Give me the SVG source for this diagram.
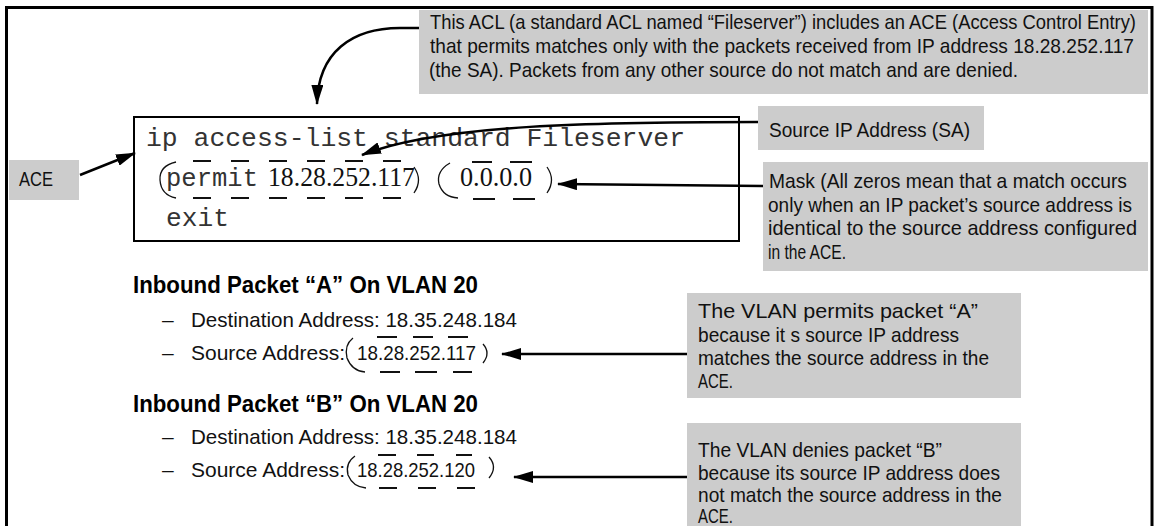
<svg xmlns="http://www.w3.org/2000/svg" width="1155" height="526" viewBox="0 0 1155 526">
<style>
.callout{fill:#cccccc;stroke:none}
.t{font-family:"Liberation Sans Narrow","Arial Narrow","Liberation Sans",Arial,sans-serif;font-size:21px;fill:#111}
.h{font-family:"Liberation Sans Narrow","Arial Narrow","Liberation Sans",Arial,sans-serif;font-size:24px;font-weight:bold;fill:#000}
.mono{font-family:"Liberation Mono","Courier New",monospace;font-size:26.4px;fill:#333}
.serif{font-family:"Liberation Serif","Times New Roman",serif;font-size:26.5px;fill:#111}
.conn{fill:none;stroke:#000;stroke-width:2.5}
.dash{fill:none;stroke:#111;stroke-width:1.8}
.arc{fill:none;stroke:#111;stroke-width:1.3}
</style>
<defs>
<marker id="arrow" markerUnits="userSpaceOnUse" markerWidth="20" markerHeight="12" refX="19" refY="6" orient="auto">
<path d="M0,0 L20,6 L0,12 z" fill="#000"/>
</marker>
</defs>
<rect id="frame" x="6.5" y="7.5" width="1145.5" height="530" fill="none" stroke="#000" stroke-width="3"/>

<g id="acl-callout">
<rect class="callout" x="419" y="10" width="729" height="84"/>
<text class="t" x="430" y="29" textLength="706" lengthAdjust="spacingAndGlyphs">This ACL (a standard ACL named “Fileserver”) includes an ACE (Access Control Entry)</text>
<text class="t" x="430" y="53" textLength="704" lengthAdjust="spacingAndGlyphs">that permits matches only with the packets received from IP address 18.28.252.117</text>
<text class="t" x="429" y="77" textLength="589" lengthAdjust="spacingAndGlyphs">(the SA). Packets from any other source do not match and are denied.</text>
</g>

<g id="code-box">
<rect x="134" y="117" width="605" height="124" fill="#fff" stroke="#000" stroke-width="2"/>
<text class="mono" x="146" y="146" textLength="539" lengthAdjust="spacingAndGlyphs">ip access-list standard Fileserver</text>
<text class="mono" x="166" y="186" textLength="92" lengthAdjust="spacingAndGlyphs">permit</text>
<text class="serif" x="268" y="186" textLength="147" lengthAdjust="spacingAndGlyphs">18.28.252.117</text>
<text class="serif" x="460" y="186" textLength="72" lengthAdjust="spacingAndGlyphs">0.0.0.0</text>
<text class="mono" x="166" y="226" textLength="63" lengthAdjust="spacingAndGlyphs">exit</text>
<g id="sa-ellipse">
<path class="arc" d="M176 162 Q159 166 160 180 Q161 195 176 198"/>
<path class="dash" d="M193 161 H401 M193 198 H401" stroke-dasharray="18 20"/>
<path class="arc" d="M414 167 Q423 180 414 193"/>
</g>
<g id="mask-ellipse">
<path class="arc" d="M450 163 Q436 171 439 184 Q443 197 458 198"/>
<path class="dash" d="M472 162 H492 M510 162 H532 M473 199 H495 M513 199 H535"/>
<path class="arc" d="M547 167 Q556 180 547 193"/>
</g>
</g>

<g id="ace-label">
<rect class="callout" x="9" y="160" width="70" height="40"/>
<text class="t" x="19" y="186" textLength="34" lengthAdjust="spacingAndGlyphs">ACE</text>
</g>

<g id="sa-callout">
<rect class="callout" x="758" y="106" width="226" height="44"/>
<text class="t" x="769" y="137" textLength="201" lengthAdjust="spacingAndGlyphs">Source IP Address (SA)</text>
</g>

<g id="mask-callout">
<rect class="callout" x="763" y="162" width="385" height="109"/>
<text class="t" x="769" y="188" textLength="358" lengthAdjust="spacingAndGlyphs">Mask (All zeros mean that a match occurs</text>
<text class="t" x="768" y="212" textLength="364" lengthAdjust="spacingAndGlyphs">only when an IP packet’s source address is</text>
<text class="t" x="768" y="235" textLength="369" lengthAdjust="spacingAndGlyphs">identical to the source address configured</text>
<text class="t" x="768" y="259" textLength="78" lengthAdjust="spacingAndGlyphs">in the ACE.</text>
</g>

<g id="packet-a">
<text class="h" x="133" y="293" textLength="345" lengthAdjust="spacingAndGlyphs">Inbound Packet “A” On VLAN 20</text>
<text class="t" x="162" y="327">–</text>
<text class="t" x="191" y="327" textLength="326" lengthAdjust="spacingAndGlyphs">Destination Address: 18.35.248.184</text>
<text class="t" x="162" y="360">–</text>
<text class="t" x="191" y="360" textLength="154" lengthAdjust="spacingAndGlyphs">Source Address:</text>
<text class="t" x="357" y="360" textLength="119" lengthAdjust="spacingAndGlyphs">18.28.252.117</text>
<path class="arc" d="M353 338 Q344 345 347 358 Q352 371 365 372"/>
<path class="dash" d="M377 337 H397 M413 337 H433 M448 337 H468 M380 372 H400 M415 372 H437 M453 372 H472"/>
<path class="arc" d="M483 344 Q491 353 483 363"/>
</g>

<g id="permit-callout">
<rect class="callout" x="687" y="293" width="334" height="105"/>
<text class="t" x="698" y="318" textLength="280" lengthAdjust="spacingAndGlyphs">The VLAN permits packet “A”</text>
<text class="t" x="698" y="342" textLength="261" lengthAdjust="spacingAndGlyphs">because it s source IP address</text>
<text class="t" x="698" y="365" textLength="291" lengthAdjust="spacingAndGlyphs">matches the source address in the</text>
<text class="t" x="698" y="388" textLength="35" lengthAdjust="spacingAndGlyphs">ACE.</text>
</g>

<g id="packet-b">
<text class="h" x="133" y="412" textLength="345" lengthAdjust="spacingAndGlyphs">Inbound Packet “B” On VLAN 20</text>
<text class="t" x="162" y="444">–</text>
<text class="t" x="191" y="444" textLength="326" lengthAdjust="spacingAndGlyphs">Destination Address: 18.35.248.184</text>
<text class="t" x="162" y="477">–</text>
<text class="t" x="191" y="477" textLength="154" lengthAdjust="spacingAndGlyphs">Source Address:</text>
<text class="t" x="357" y="477" textLength="118" lengthAdjust="spacingAndGlyphs">18.28.252.120</text>
<path class="arc" d="M355 456 Q345 463 348 475 Q353 487 366 488"/>
<path class="dash" d="M378 455 H396 M417 455 H434 M456 455 H472 M379 488 H397 M418 488 H436 M457 488 H475"/>
<path class="arc" d="M489 457 Q498 467 489 478"/>
</g>

<g id="deny-callout">
<rect class="callout" x="687" y="423" width="334" height="103"/>
<text class="t" x="698" y="457" textLength="244" lengthAdjust="spacingAndGlyphs">The VLAN denies packet “B”</text>
<text class="t" x="698" y="480" textLength="302" lengthAdjust="spacingAndGlyphs">because its source IP address does</text>
<text class="t" x="698" y="502" textLength="304" lengthAdjust="spacingAndGlyphs">not match the source address in the</text>
<text class="t" x="698" y="523" textLength="35" lengthAdjust="spacingAndGlyphs">ACE.</text>
</g>

<g id="connectors">
<path class="conn" d="M419 28 L400 28 C352 28 318 52 317 104" marker-end="url(#arrow)"/>
<path class="conn" d="M80 175 L135 153" marker-end="url(#arrow)"/>
<path class="conn" d="M758 122 C600 122 440 124 362 155" marker-end="url(#arrow)"/>
<path class="conn" d="M763 186 L558 184" marker-end="url(#arrow)"/>
<path class="conn" d="M687 354 L502 354" marker-end="url(#arrow)"/>
<path class="conn" d="M687 477 L514 477" marker-end="url(#arrow)"/>
</g>
</svg>
